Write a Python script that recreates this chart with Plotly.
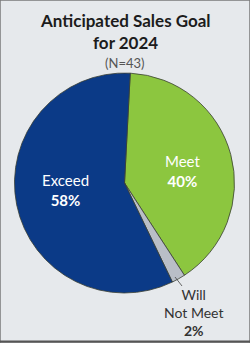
import plotly.graph_objects as go

# Data
categories = ["Meet", "Will Not Meet", "Exceed"]
values = [40, 2, 58]
colors = ["#8cc63f", "#b9bec7", "#0b3a87"]
title_lines = ["Anticipated Sales Goal", "for 2024"]
subtitle = "(N=43)"

W, H = 250, 343
cx, cy, r = 124.5, 183, 110

fig = go.Figure()
fig.add_trace(go.Pie(
    labels=categories,
    values=values,
    sort=False,
    direction="clockwise",
    rotation=3,
    marker=dict(colors=colors, line=dict(color="#3a3f33", width=0.8)),
    textinfo="none",
    hoverinfo="label+percent",
    showlegend=False,
    domain=dict(x=[(cx - r) / W, (cx + r) / W], y=[1 - (cy + r) / H, 1 - (cy - r) / H]),
))

def px(x):
    return x / W

def py(y):
    return 1 - y / H

ann = []
font_t = "Lato, 'Open Sans', sans-serif"

def add(x, y, text, size, color):
    ann.append(dict(x=px(x), y=py(y), text=text, showarrow=False, xanchor="center", yanchor="middle",
                    font=dict(family=font_t, size=size, color=color), xref="paper", yref="paper"))

add(125, 21, "<b>" + title_lines[0] + "</b>", 17, "#1c1c1c")
add(125, 42, "<b>" + title_lines[1] + "</b>", 17, "#1c1c1c")
add(125, 63, subtitle, 13, "#555555")

pct = {c: f"{v}%" for c, v in zip(categories, values)}
add(65, 190, f"Exceed<br><b>{pct['Exceed']}</b>", 15, "white")
add(182, 171, f"Meet<br><b>{pct['Meet']}</b>", 15, "white")
add(193, 312, f"Will<br>Not Meet<br><b>{pct['Will Not Meet']}</b>", 14, "#333333")

shapes = [
    dict(type="line", xref="paper", yref="paper", x0=px(175), y0=py(277), x1=px(182), y1=py(286),
         line=dict(color="#444444", width=0.8)),
    dict(type="rect", xref="paper", yref="paper", x0=0, y0=0, x1=1, y1=1,
         line=dict(color="#7a7a7a", width=1.5)),
    dict(type="line", xref="paper", yref="paper", x0=0, y0=py(341.5), x1=1, y1=py(341.5),
         line=dict(color="#555555", width=2)),
]

fig.update_layout(
    width=W, height=H,
    margin=dict(l=0, r=0, t=0, b=0),
    paper_bgcolor="#e6e9ec",
    plot_bgcolor="#e6e9ec",
    annotations=ann,
    shapes=shapes,
)

fig.write_html("out.html")
